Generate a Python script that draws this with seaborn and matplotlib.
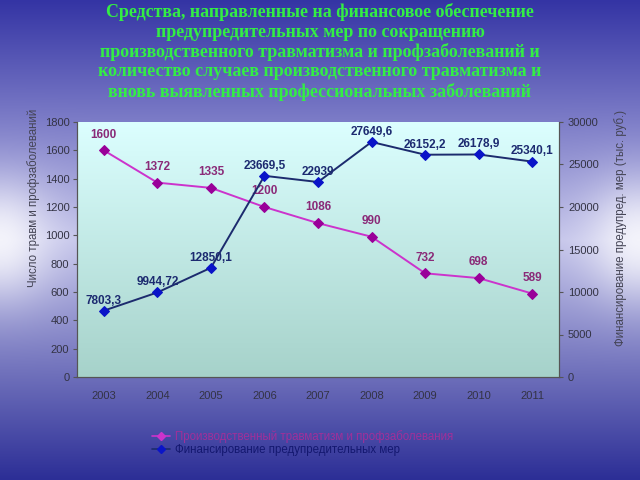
import numpy as np
import pandas as pd
import matplotlib
matplotlib.use("Agg")
import matplotlib.pyplot as plt
import seaborn as sns
from matplotlib.colors import LinearSegmentedColormap
from matplotlib.lines import Line2D

years = ["2003", "2004", "2005", "2006", "2007", "2008", "2009", "2010", "2011"]
injuries = [1600, 1372, 1335, 1200, 1086, 990, 732, 698, 589]
funding = [7803.3, 9944.72, 12850.1, 23669.5, 22939, 27649.6, 26152.2, 26178.9, 25340.1]
funding_labels = ["7803,3", "9944,72", "12850,1", "23669,5", "22939", "27649,6", "26152,2", "26178,9", "25340,1"]
left_ticks = list(range(0, 1801, 200))
right_ticks = list(range(0, 30001, 5000))

title = ("Средства, направленные на финансовое обеспечение\n"
         "предупредительных мер по сокращению\n"
         "производственного травматизма и профзаболеваний и\n"
         "количество случаев производственного травматизма и\n"
         "вновь выявленных профессиональных заболеваний")
left_label = "Число травм и профзаболеваний"
right_label = "Финансирование предупред. мер (тыс. руб.)"
leg1 = "Производственный травматизм и профзаболевания"
leg2 = "Финансирование предупредительных мер"

sns.set_style("white")
plt.rcParams['font.family'] = ['Liberation Sans', 'DejaVu Sans']

df = pd.DataFrame({"x": np.arange(len(years)), "injuries": injuries, "funding": funding})

fig = plt.figure(figsize=(6.4, 4.8), dpi=100)

# background gradient
bg = fig.add_axes([0, 0, 1, 1], zorder=-10)
h, w = 480, 640
yy = np.linspace(0, 1, h)[:, None]
xx = np.linspace(0, 1, w)[None, :]
top = np.array([0x34, 0x34, 0xa4]) / 255
mid = np.array([0xc4, 0xc4, 0xea]) / 255
bot = np.array([0x2c, 0x2e, 0x96]) / 255
t = yy
img = np.zeros((h, w, 3))
for c in range(3):
    up = top[c] + (mid[c] - top[c]) * np.clip(t / 0.5, 0, 1)
    dn = mid[c] + (bot[c] - mid[c]) * np.clip((t - 0.5) / 0.5, 0, 1)
    base = np.where(t < 0.5, up, dn)
    edge = np.exp(-((t - 0.5) / 0.12) ** 2) * (np.exp(-(xx / 0.08) ** 2) + np.exp(-((1 - xx) / 0.08) ** 2))
    img[:, :, c] = np.clip(base + (1 - base) * 0.8 * edge, 0, 1)
bg.imshow(img, aspect='auto', extent=[0, 1, 0, 1], origin='upper')
bg.axis('off')

ax = fig.add_axes([77/640, 1-377/480, 482/640, 255/480])
ax.set_xlim(-0.5, 8.5)
ax.set_ylim(0, 1800)
# plot area gradient
cmap = LinearSegmentedColormap.from_list("pa", ["#a6d2ca", "#dcffff"])
ax.imshow(np.linspace(0, 1, 256)[:, None], aspect='auto', cmap=cmap,
          extent=[-0.5, 8.5, 0, 1800], origin='lower', zorder=0)

ax2 = ax.twinx()
ax2.set_ylim(0, 30000)

mag = "#cc33cc"
magd = "#990099"
blue_line = "#1c2b6e"
blue_mk = "#0a14c8"

sns.lineplot(data=df, x="x", y="injuries", ax=ax, color=mag, lw=1.4, marker="D",
             markersize=5, markerfacecolor=magd, markeredgecolor=magd, zorder=3)
sns.lineplot(data=df, x="x", y="funding", ax=ax2, color=blue_line, lw=1.4, marker="D",
             markersize=5, markerfacecolor=blue_mk, markeredgecolor=blue_mk, zorder=3)

for i, v in enumerate(injuries):
    ax.annotate(str(v), (i, v), xytext=(0, 7), textcoords="offset points",
                ha="center", va="bottom", fontsize=8.5, fontweight="bold", color="#8a2a78")
for i, (v, s) in enumerate(zip(funding, funding_labels)):
    ax2.annotate(s, (i, v), xytext=(0, 3), textcoords="offset points",
                 ha="center", va="bottom", fontsize=8.5, fontweight="bold", color="#1c2a70")

ax.set_yticks(left_ticks)
ax.set_yticklabels([str(v) for v in left_ticks])
ax2.set_yticks(right_ticks)
ax2.set_yticklabels([str(v) for v in right_ticks])
ax.set_xticks(np.arange(len(years)))
ax.set_xticklabels(years)
ax.set_xticks(np.arange(-0.5, 9.0, 1), minor=True)

tick_color = "#333344"
ax.tick_params(axis="y", which="major", direction="out", length=3, width=0.8, color="#555",
               labelsize=8, labelcolor=tick_color, pad=2.5)
ax2.tick_params(axis="y", which="major", direction="out", length=3, width=0.8, color="#555",
                labelsize=8, labelcolor=tick_color, pad=3.5)
ax.tick_params(axis="x", which="major", length=0, labelsize=8, labelcolor=tick_color, pad=10)
ax.tick_params(axis="x", which="minor", direction="inout", length=6, width=0.8, color="#555")

for a in (ax, ax2):
    for s in ["top"]:
        a.spines[s].set_visible(False)
    a.spines["left"].set_color("#555")
    a.spines["right"].set_color("#555")
    a.spines["bottom"].set_color("#555")
    a.set_xlabel("")
    a.set_ylabel("")
    a.grid(False)
ax2.patch.set_visible(False)

fig.text(34/640, 1-198/480, left_label, rotation=90, ha="center", va="center",
         fontsize=8.3, color="#444455")
fig.text(621/640, 1-228/480, right_label, rotation=90, ha="center", va="center",
         fontsize=8.3, color="#444455")

fig.text(0.5, 1-52/480, title, ha="center", va="center", fontsize=12.9, fontweight="bold",
         family=["Liberation Serif", "DejaVu Serif"], color="#33ee44", linespacing=1.17)

handles = [Line2D([0], [0], color=mag, marker="D", markersize=4, markerfacecolor=mag,
                  markeredgecolor=mag, lw=1.2),
           Line2D([0], [0], color=blue_line, marker="D", markersize=4, markerfacecolor=blue_mk,
                  markeredgecolor=blue_mk, lw=1.2)]
leg = fig.legend(handles, [leg1, leg2], loc="upper left", bbox_to_anchor=(146/640, 1-424/480),
                 frameon=False, fontsize=8.3, handlelength=1.6, handletextpad=0.4,
                 labelspacing=0.15, borderpad=0)
leg.get_texts()[0].set_color("#a0309a")
leg.get_texts()[1].set_color("#141870")

fig.savefig("out.png", dpi=100)
